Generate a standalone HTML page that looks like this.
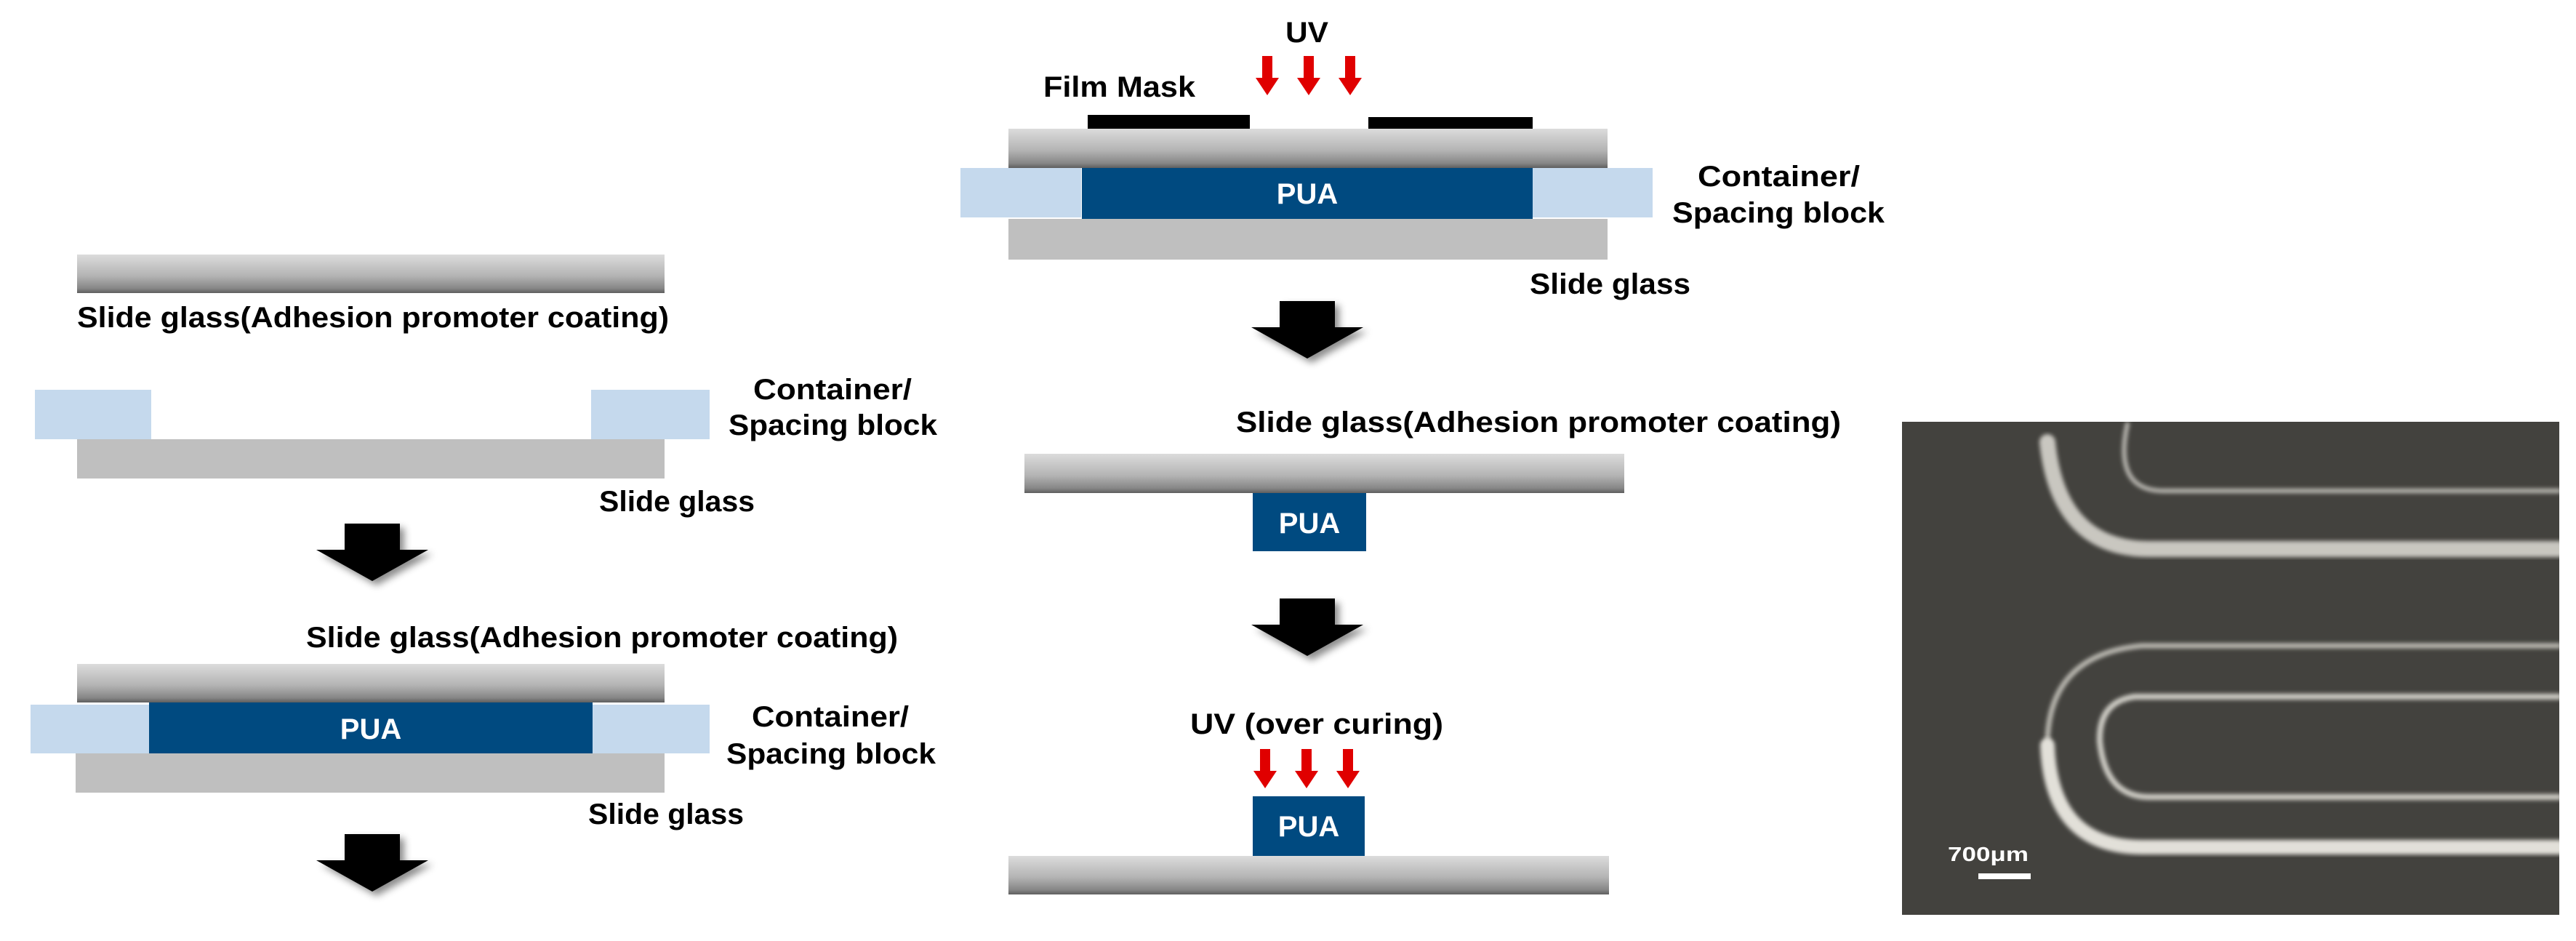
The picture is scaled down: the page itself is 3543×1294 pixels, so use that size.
<!DOCTYPE html>
<html><head><meta charset="utf-8"><style>
html,body{margin:0;padding:0;background:#fff;}
svg{display:block;}
text{font-family:"Liberation Sans",sans-serif;font-weight:bold;fill:#000;}
</style></head><body>
<svg width="3543" height="1294" viewBox="0 0 3543 1294" xmlns="http://www.w3.org/2000/svg">
<defs>
<linearGradient id="gl" x1="0" y1="0" x2="0" y2="1">
<stop offset="0" stop-color="#dcdcdc"/><stop offset="0.55" stop-color="#b4b4b4"/><stop offset="0.88" stop-color="#868686"/><stop offset="1" stop-color="#5e5e5e"/>
</linearGradient>
<filter id="sh" x="-30%" y="-30%" width="170%" height="170%"><feDropShadow dx="6" dy="6" stdDeviation="5" flood-color="#000" flood-opacity="0.45"/></filter>
<filter id="bl"><feGaussianBlur stdDeviation="3"/></filter>
<filter id="bl2"><feGaussianBlur stdDeviation="6"/></filter>
<g id="barrow"><polygon filter="url(#sh)" fill="#000" points="-38,0 38,0 38,36 77,36 0,79 -77,36 -38,36"/></g>
<g id="rarrow"><polygon fill="#e00000" points="-7,0 7,0 7,30 16,30 0,54 -16,30 -7,30"/></g>
</defs>

<!-- LEFT COLUMN -->
<rect x="106" y="350" width="808" height="53" fill="url(#gl)"/>
<text x="106" y="450" font-size="40" textLength="814" lengthAdjust="spacingAndGlyphs">Slide glass(Adhesion promoter coating)</text>
<rect x="48" y="536" width="160" height="68" fill="#c5d9ed"/>
<rect x="813" y="536" width="163" height="68" fill="#c5d9ed"/>
<rect x="106" y="604" width="808" height="54" fill="#bfbfbf"/>
<text x="1036" y="549" font-size="40" textLength="218" lengthAdjust="spacingAndGlyphs">Container/</text>
<text x="1002" y="598" font-size="40" textLength="287" lengthAdjust="spacingAndGlyphs">Spacing block</text>
<text x="824" y="703" font-size="40" textLength="214" lengthAdjust="spacingAndGlyphs">Slide glass</text>
<use href="#barrow" x="512" y="720"/>

<text x="421" y="890" font-size="40" textLength="814" lengthAdjust="spacingAndGlyphs">Slide glass(Adhesion promoter coating)</text>
<rect x="106" y="913" width="808" height="53" fill="url(#gl)"/>
<rect x="42" y="969" width="163" height="67" fill="#c5d9ed"/>
<rect x="205" y="966" width="610" height="70" fill="#004a80"/>
<rect x="815" y="969" width="161" height="67" fill="#c5d9ed"/>
<rect x="104" y="1036" width="810" height="54" fill="#bfbfbf"/>
<text x="510" y="1016" font-size="40" style="fill:#fff" text-anchor="middle">PUA</text>
<text x="1034" y="999" font-size="40" textLength="216" lengthAdjust="spacingAndGlyphs">Container/</text>
<text x="999" y="1050" font-size="40" textLength="288" lengthAdjust="spacingAndGlyphs">Spacing block</text>
<text x="809" y="1133" font-size="40" textLength="214" lengthAdjust="spacingAndGlyphs">Slide glass</text>
<use href="#barrow" x="512" y="1147"/>

<!-- MIDDLE COLUMN -->
<text x="1768" y="58" font-size="40" textLength="59" lengthAdjust="spacingAndGlyphs">UV</text>
<use href="#rarrow" x="1743" y="77"/>
<use href="#rarrow" x="1800" y="77"/>
<use href="#rarrow" x="1857" y="77"/>
<text x="1435" y="133" font-size="40" textLength="209" lengthAdjust="spacingAndGlyphs">Film Mask</text>
<rect x="1496" y="158" width="223" height="19" fill="#000"/>
<rect x="1882" y="161" width="226" height="16" fill="#000"/>
<rect x="1387" y="177" width="824" height="54" fill="url(#gl)"/>
<rect x="1321" y="231" width="166" height="68" fill="#c5d9ed"/>
<rect x="1488" y="231" width="620" height="70" fill="#004a80"/>
<rect x="2108" y="231" width="165" height="68" fill="#c5d9ed"/>
<rect x="1387" y="301" width="824" height="56" fill="#bfbfbf"/>
<text x="1798" y="280" font-size="40" style="fill:#fff" text-anchor="middle">PUA</text>
<text x="2335" y="256" font-size="40" textLength="223" lengthAdjust="spacingAndGlyphs">Container/</text>
<text x="2300" y="306" font-size="40" textLength="292" lengthAdjust="spacingAndGlyphs">Spacing block</text>
<text x="2104" y="404" font-size="40" textLength="221" lengthAdjust="spacingAndGlyphs">Slide glass</text>
<use href="#barrow" x="1798" y="414"/>

<text x="1700" y="594" font-size="40" textLength="832" lengthAdjust="spacingAndGlyphs">Slide glass(Adhesion promoter coating)</text>
<rect x="1409" y="624" width="825" height="54" fill="url(#gl)"/>
<rect x="1723" y="678" width="156" height="80" fill="#004a80"/>
<text x="1801" y="733" font-size="40" style="fill:#fff" text-anchor="middle">PUA</text>
<use href="#barrow" x="1798" y="823"/>

<text x="1637" y="1009" font-size="40" textLength="348" lengthAdjust="spacingAndGlyphs">UV (over curing)</text>
<use href="#rarrow" x="1740" y="1030"/>
<use href="#rarrow" x="1797" y="1030"/>
<use href="#rarrow" x="1854" y="1030"/>
<rect x="1723" y="1095" width="154" height="82" fill="#004a80"/>
<text x="1800" y="1150" font-size="40" style="fill:#fff" text-anchor="middle">PUA</text>
<rect x="1387" y="1177" width="826" height="53" fill="url(#gl)"/>

<!-- PHOTO -->
<g transform="translate(2616,580)">
<svg width="904" height="678" viewBox="0 0 904 678">
<rect width="904" height="678" fill="#43423e"/>
<g fill="none" stroke-linecap="round">
 <path d="M200,28 Q215,175 340,175 L904,175" stroke="#d8d6cf" stroke-width="22" filter="url(#bl)" opacity="0.9"/>
 <path d="M310,3 Q290,95 360,95 L904,95" stroke="#bcbab4" stroke-width="6" filter="url(#bl)"/>
 <path d="M334,47 L904,47" stroke="#6a6966" stroke-width="8" filter="url(#bl2)"/>
 <path d="M310,250 L904,250" stroke="#6e6d69" stroke-width="10" filter="url(#bl2)"/>
 <path d="M904,308 L330,308 Q200,320 200,445" stroke="#bdbbb4" stroke-width="7" filter="url(#bl)"/>
 <path d="M200,445 Q205,585 330,585 L904,585" stroke="#e2e0d9" stroke-width="20" filter="url(#bl)"/>
 <path d="M904,378 L320,378 Q270,385 272,440 Q280,516 340,516 L904,516" stroke="#cfcdc6" stroke-width="8" filter="url(#bl)"/>
 <path d="M904,376 L330,376" stroke="#e6e4dd" stroke-width="16" filter="url(#bl)"/>
 <path d="M320,462 L904,462" stroke="#7a7975" stroke-width="8" filter="url(#bl2)"/>
 <path d="M320,665 L904,665" stroke="#6e6d69" stroke-width="8" filter="url(#bl2)"/>
</g>
<text x="63" y="604" font-size="28" style="fill:#fff" textLength="111" lengthAdjust="spacingAndGlyphs">700μm</text>
<rect x="105" y="621" width="72" height="8" fill="#fff"/>
</svg>
</g>
</svg>
</body></html>
